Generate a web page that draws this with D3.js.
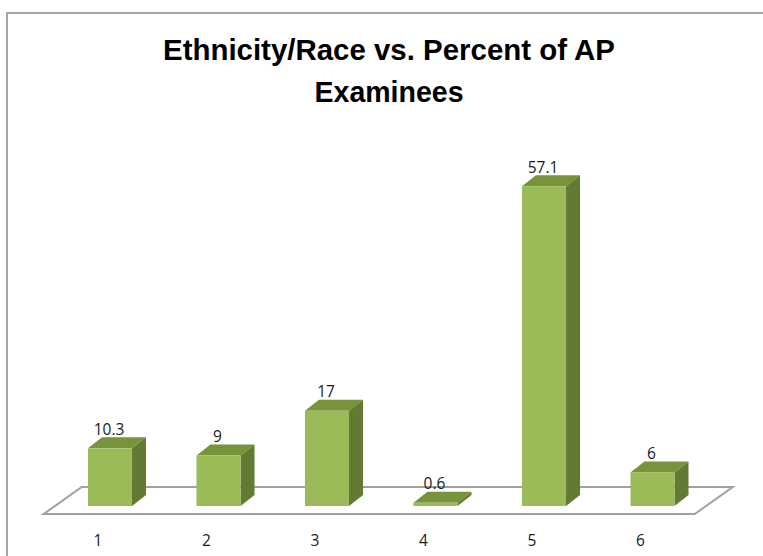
<!DOCTYPE html>
<html>
<head>
<meta charset="utf-8">
<script src="https://cdn.jsdelivr.net/npm/d3@7"></script>
<style>
  html, body { margin: 0; padding: 0; background: #fff; }
  svg { display: block; }
  .title { font-family: "Liberation Sans Narrow", "Liberation Sans", Arial, sans-serif; font-weight: bold; font-size: 29px; fill: #000; }
  .val, .cat text { font-family: "Open Sans", "DejaVu Sans", sans-serif; font-size: 15.5px; fill: #1a1a1a; }
</style>
</head>
<body>
<div id="chart"></div>
<script>
// chart values
const categories = ["1", "2", "3", "4", "5", "6"];
const percents = [10.3, 9, 17, 0.6, 57.1, 6];
const titleLines = ["Ethnicity/Race vs. Percent of AP", "Examinees"];

const width = 763, height = 556;
const base = 506;          // bottom of the columns
const depth = { dx: 14, dy: -11 };       // column depth
const floorDepth = { dx: 38, dy: -27 };  // floor depth
const shift = -12;         // perspective shift of floor / labels

const svg = d3.select('#chart').append('svg')
  .attr('width', width)
  .attr('height', height);

// outer frame (only top and left visible)
svg.append('path')
  .attr('d', `M7,556 L7,13 L763,13`)
  .attr('fill', 'none')
  .attr('stroke', '#a6a6a6')
  .attr('stroke-width', 2);

// title
const titleW = [452, 149];
svg.selectAll('text.title')
  .data(titleLines)
  .join('text')
  .attr('class', 'title')
  .attr('x', 389)
  .attr('y', (d, i) => 60 + i * 42)
  .attr('text-anchor', 'middle')
  .attr('textLength', (d, i) => titleW[i])
  .attr('lengthAdjust', 'spacingAndGlyphs')
  .text(d => d);

// scales
const x = d3.scaleBand()
  .domain(categories)
  .range([55.75, 706.75])
  .paddingInner(0.594)
  .paddingOuter(0.297);

const y = d3.scaleLinear()
  .domain([0, 60])
  .range([base, base - 60 * 5.6]);

// floor
const [r0, r1] = x.range();
const fy = 514;
svg.append('path')
  .attr('d', `M${r0 + shift},${fy} L${r1 + shift},${fy} L${r1 + shift + floorDepth.dx},${fy + floorDepth.dy} L${r0 + shift + floorDepth.dx},${fy + floorDepth.dy} Z`)
  .attr('fill', 'none')
  .attr('stroke', '#a0a0a0')
  .attr('stroke-width', 2);

// columns
const data = categories.map((c, i) => ({ cat: c, v: percents[i] }));
const bw = x.bandwidth();

const bars = svg.append('g').selectAll('g')
  .data(data)
  .join('g');

// top face
bars.append('path')
  .attr('fill', '#77933c')
  .attr('d', d => {
    const x0 = x(d.cat), t = y(d.v);
    return `M${x0},${t} L${x0 + depth.dx},${t + depth.dy} L${x0 + bw + depth.dx},${t + depth.dy} L${x0 + bw},${t} Z`;
  });

// side face
bars.append('path')
  .attr('fill', '#627a31')
  .attr('d', d => {
    const x1 = x(d.cat) + bw, t = y(d.v);
    return `M${x1},${t} L${x1 + depth.dx},${t + depth.dy} L${x1 + depth.dx},${base + depth.dy} L${x1},${base} Z`;
  });

// front face
bars.append('rect')
  .attr('fill', '#9bbb59')
  .attr('x', d => x(d.cat))
  .attr('y', d => y(d.v))
  .attr('width', bw)
  .attr('height', d => base - y(d.v));

// value labels
bars.append('text')
  .attr('class', 'val')
  .attr('x', d => x(d.cat) + bw / 2 - 1)
  .attr('y', d => y(d.v) - 13.5)
  .attr('text-anchor', 'middle')
  .text(d => d.v);

// category axis
const xAxis = d3.axisBottom(x).tickSize(0).tickPadding(21);
const ax = svg.append('g')
  .attr('class', 'cat')
  .attr('transform', `translate(${shift},${fy})`)
  .call(xAxis);
ax.select('.domain').remove();
ax.selectAll('text').attr('fill', '#1a1a1a');
</script>
</body>
</html>
